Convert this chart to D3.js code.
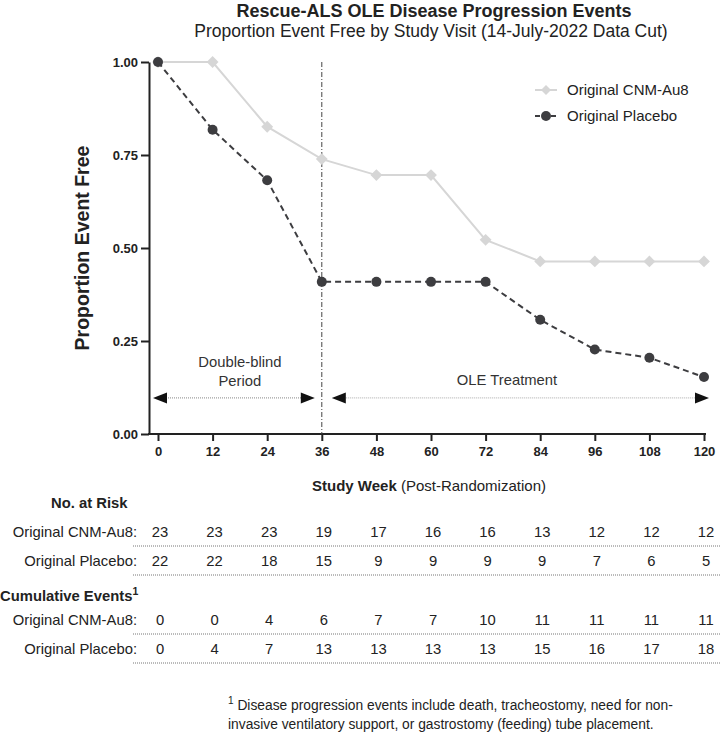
<!DOCTYPE html>
<html><head><meta charset="utf-8">
<script src="https://cdn.jsdelivr.net/npm/d3@7"></script>
<style>
body{margin:0;background:#fff;}
svg{font-family:"Liberation Sans",Arial,sans-serif;}
</style></head>
<body><svg id="c" width="721" height="734"></svg>
<script>
const weeks = [0,12,24,36,48,60,72,84,96,108,120];
const cnmValues = [1.00,1.00,0.826,0.739,0.696,0.696,0.522,0.464,0.464,0.464,0.464];
const placeboValues = [1.00,0.818,0.682,0.409,0.409,0.409,0.409,0.307,0.227,0.205,0.153];
const yTicks = [0,0.25,0.5,0.75,1];
const seriesNames = ["Original CNM-Au8","Original Placebo"];
const atRiskCnm = [23,23,23,19,17,16,16,13,12,12,12];
const atRiskPlacebo = [22,22,18,15,9,9,9,9,7,6,5];
const cumEventsCnm = [0,0,4,6,7,7,10,11,11,11,11];
const cumEventsPlacebo = [0,4,7,13,13,13,13,15,16,17,18];
const dbEnd = 36;

const svg = d3.select("#c");
const x = d3.scaleLinear().domain([0,120]).range([158,704]);
const y = d3.scaleLinear().domain([0,1]).range([434,62]);
const axisX0 = 149;
const cnmColor = "#d6d6d6", plColor = "#3d3d40";
const FS = 14.8;

// titles
svg.append("text").attr("x",434).attr("y",17).attr("text-anchor","middle")
  .attr("font-size",18).attr("font-weight","bold").attr("fill","#222").text("Rescue-ALS OLE Disease Progression Events");
svg.append("text").attr("x",431).attr("y",37).attr("text-anchor","middle")
  .attr("font-size",17.5).attr("fill","#222").text("Proportion Event Free by Study Visit (14-July-2022 Data Cut)");

// y axis
const yAxis = svg.append("g").attr("transform",`translate(${axisX0},0)`)
  .call(d3.axisLeft(y).tickValues(yTicks).tickFormat(d3.format(".2f")).tickSize(8).tickSizeOuter(0).tickPadding(3));
yAxis.select(".domain").attr("stroke","#222").attr("stroke-width",2);
yAxis.selectAll(".tick line").attr("stroke","#222").attr("stroke-width",2);
yAxis.selectAll(".tick text").attr("font-size",13).attr("font-weight","bold").attr("fill","#222").attr("font-family","Liberation Sans, Arial, sans-serif");

// x axis
const xAxis = svg.append("g").attr("transform",`translate(0,${y(0)})`)
  .call(d3.axisBottom(x).tickValues(weeks).tickSize(7).tickSizeOuter(0).tickPadding(6));
xAxis.select(".domain").remove();
xAxis.append("line").attr("x1",axisX0-1).attr("x2",x(120)+2).attr("y1",0).attr("y2",0).attr("stroke","#222").attr("stroke-width",2);
xAxis.selectAll(".tick line").attr("stroke","#222").attr("stroke-width",2);
xAxis.selectAll(".tick text").attr("font-size",13).attr("font-weight","bold").attr("fill","#222").attr("font-family","Liberation Sans, Arial, sans-serif");

// y axis title
svg.append("text").attr("transform",`translate(89,${(y(0)+y(1))/2}) rotate(-90)`)
  .attr("text-anchor","middle").attr("font-size",19.5).attr("font-weight","bold").attr("fill","#222").text("Proportion Event Free");

// x axis title
const xt = svg.append("text").attr("x",429).attr("y",491).attr("text-anchor","middle").attr("font-size",15).attr("fill","#222");
xt.append("tspan").attr("font-weight","bold").text("Study Week");
xt.append("tspan").text(" (Post-Randomization)");

// vertical divider
svg.append("line").attr("x1",x(dbEnd)).attr("x2",x(dbEnd)).attr("y1",y(1)).attr("y2",y(0))
  .attr("stroke","#444").attr("stroke-width",1).attr("stroke-dasharray","5,2,1,2");

// period arrows
const arrowY = y(0.097);
svg.append("line").attr("x1",x(0)+8).attr("x2",x(dbEnd)-18).attr("y1",arrowY).attr("y2",arrowY)
  .attr("stroke","#888").attr("stroke-width",1).attr("stroke-dasharray","1,1");
svg.append("line").attr("x1",x(dbEnd)+22).attr("x2",x(120)-8).attr("y1",arrowY).attr("y2",arrowY)
  .attr("stroke","#aaa").attr("stroke-width",1).attr("stroke-dasharray","1,1");
function tri(xTip, dir){
  const L=14,H=5.5;
  svg.append("path").attr("d",`M${xTip},${arrowY} L${xTip-dir*L},${arrowY-H} L${xTip-dir*L},${arrowY+H} Z`).attr("fill","#111");
}
tri(x(0)-5,-1); tri(x(dbEnd)-7,1); tri(x(dbEnd)+10,-1); tri(x(120)+5,1);
svg.append("text").attr("x",(x(0)+x(dbEnd))/2).attr("y",367).attr("text-anchor","middle").attr("font-size",FS).attr("fill","#333").text("Double-blind");
svg.append("text").attr("x",(x(0)+x(dbEnd))/2).attr("y",386).attr("text-anchor","middle").attr("font-size",FS).attr("fill","#333").text("Period");
svg.append("text").attr("x",507).attr("y",385).attr("text-anchor","middle").attr("font-size",FS).attr("fill","#333").text("OLE Treatment");

// lines
const line = d3.line().x((d,i)=>x(weeks[i])).y(d=>y(d));
svg.append("path").datum(cnmValues).attr("d",line).attr("fill","none").attr("stroke",cnmColor).attr("stroke-width",2);
svg.append("path").datum(placeboValues).attr("d",line).attr("fill","none").attr("stroke",plColor).attr("stroke-width",2).attr("stroke-dasharray","6,4");
svg.append("g").selectAll("path").data(cnmValues).join("path")
  .attr("transform",(d,i)=>`translate(${x(weeks[i])},${y(d)}) rotate(45)`)
  .attr("d",d3.symbol().type(d3.symbolSquare).size(70)).attr("fill",cnmColor);
svg.append("g").selectAll("circle").data(placeboValues).join("circle")
  .attr("cx",(d,i)=>x(weeks[i])).attr("cy",d=>y(d)).attr("r",5).attr("fill",plColor);

// legend
const lg = svg.append("g");
lg.append("line").attr("x1",535).attr("x2",557).attr("y1",90).attr("y2",90).attr("stroke",cnmColor).attr("stroke-width",2);
lg.append("path").attr("transform","translate(546,90) rotate(45)").attr("d",d3.symbol().type(d3.symbolSquare).size(50)).attr("fill",cnmColor);
lg.append("line").attr("x1",535).attr("x2",557).attr("y1",116).attr("y2",116).attr("stroke",plColor).attr("stroke-width",2).attr("stroke-dasharray","5,3");
lg.append("circle").attr("cx",546).attr("cy",116).attr("r",5).attr("fill",plColor);
lg.append("text").attr("x",567).attr("y",95).attr("font-size",15).attr("fill","#222").text(seriesNames[0]);
lg.append("text").attr("x",567).attr("y",121).attr("font-size",15).attr("fill","#222").text(seriesNames[1]);

// tables
function header(txt, yy, sup, xx){
  const t = svg.append("text").attr("x",xx).attr("y",yy).attr("font-size",FS).attr("font-weight","bold").attr("fill","#222").text(txt);
  if(sup) t.append("tspan").attr("font-size",10.5).attr("dy",-6).text(sup);
}
function row(label, vals, yy){
  svg.append("text").attr("x",137).attr("y",yy).attr("text-anchor","end").attr("font-size",FS).attr("fill","#222").text(label+":");
  svg.append("g").selectAll("text").data(vals).join("text")
    .attr("x",(d,i)=>x(weeks[i])+2).attr("y",yy).attr("text-anchor","middle").attr("font-size",FS).attr("fill","#222").text(d=>d);
  svg.append("line").attr("x1",133).attr("x2",720).attr("y1",yy+9).attr("y2",yy+9)
    .attr("stroke","#777").attr("stroke-width",1).attr("stroke-dasharray","1,1");
}
header("No. at Risk",508,null,51);
row(seriesNames[0],atRiskCnm,537);
row(seriesNames[1],atRiskPlacebo,566);
header("Cumulative Events",601,"1",0);
row(seriesNames[0],cumEventsCnm,625);
row(seriesNames[1],cumEventsPlacebo,654);

// footnote
const fn = svg.append("text").attr("x",228).attr("y",710).attr("font-size",13.8).attr("fill","#222");
fn.append("tspan").attr("font-size",10).attr("dy",-6).text("1");
fn.append("tspan").attr("dy",6).text(" Disease progression events include death, tracheostomy, need for non-");
svg.append("text").attr("x",228).attr("y",729).attr("font-size",13.8).attr("fill","#222").text("invasive ventilatory support, or gastrostomy (feeding) tube placement.");
</script></body></html>
